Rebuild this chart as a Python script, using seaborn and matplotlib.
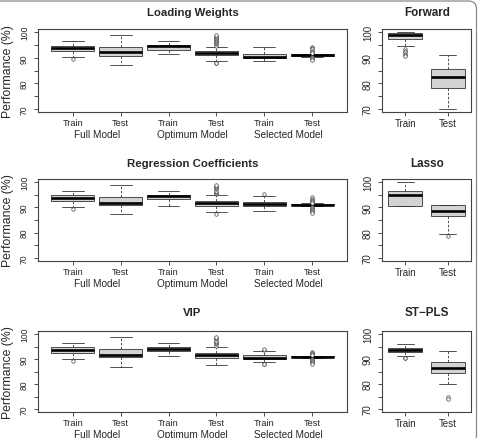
"""
Boxplots of Train/Test performance for PLS variable selection methods.
"""

import pandas as pd
import matplotlib.pyplot as plt
import seaborn as sns
from matplotlib.patches import FancyBboxPatch

# Box order on the left panels
LEFT_ORDER = ['Full Train', 'Full Test', 'Optimum Train', 'Optimum Test',
              'Selected Train', 'Selected Test']
LEFT_TICKS = ['Train', 'Test', 'Train', 'Test', 'Train', 'Test']
GROUPS = ['Full Model', 'Optimum Model', 'Selected Model']
RIGHT_ORDER = ['Train', 'Test']

# five-number summaries: whisker low, Q1, median, Q3, whisker high
loading_stats = [
    [90.1, 92.7, 93.8, 94.7, 96.4],
    [87.2, 90.8, 92.1, 94.0, 98.7],
    [91.3, 93.1, 94.5, 95.0, 96.4],
    [88.8, 91.0, 91.8, 92.7, 94.1],
    [88.9, 90.0, 90.4, 91.4, 94.1],
    [90.4, 90.7, 91.0, 91.3, 91.6],
]
loading_out = [
    [89.4],
    [],
    [],
    [94.7, 95.2, 95.6, 96.0, 96.4, 96.8, 97.2, 97.6, 98.0, 98.4, 98.8, 88.1, 87.8],
    [],
    [94.3, 93.8, 93.4, 92.8, 92.3, 91.9, 90.1, 89.7, 89.3, 89.0],
]

regression_stats = [
    [90.1, 92.7, 93.6, 94.7, 96.6],
    [87.3, 91.1, 91.7, 94.0, 98.7],
    [90.5, 93.2, 94.3, 95.0, 96.6],
    [88.1, 90.7, 91.9, 92.7, 94.7],
    [88.7, 90.5, 91.3, 92.2, 94.6],
    [90.4, 90.8, 91.0, 91.2, 91.6],
]
regression_out = [
    [89.4],
    [],
    [],
    [95.1, 95.6, 96.1, 96.6, 97.1, 97.6, 98.1, 98.6, 98.9, 87.3],
    [95.4],
    [93.9, 93.4, 92.9, 92.5, 92.1, 91.7, 90.3, 89.9, 89.5, 89.1, 88.7, 88.3, 87.9],
]

vip_stats = [
    [90.1, 92.5, 93.8, 94.7, 96.4],
    [86.9, 90.9, 91.8, 94.1, 98.7],
    [91.1, 93.1, 94.2, 94.8, 96.4],
    [87.8, 90.5, 91.5, 92.5, 94.8],
    [88.9, 90.1, 90.4, 91.8, 93.3],
    [90.5, 90.7, 90.9, 91.1, 91.3],
]
vip_out = [
    [89.3],
    [],
    [],
    [95.4, 95.9, 96.4, 96.9, 97.4, 97.9, 98.4, 98.9],
    [93.8, 94.0, 88.2, 88.0],
    [92.7, 92.3, 91.9, 91.6, 90.2, 89.8, 89.4, 89.0, 88.6, 88.2],
]

forward_stats = [
    [94.5, 97.4, 98.7, 99.6, 100.0],
    [69.9, 78.2, 82.6, 85.7, 91.0],
]
forward_out = [[93.4, 92.8, 92.2, 91.6, 91.0, 90.5], []]

lasso_stats = [
    [90.6, 90.6, 94.7, 96.6, 100.0],
    [79.6, 86.4, 88.7, 91.0, 91.0],
]
lasso_out = [[], [78.7]]

stpls_stats = [
    [91.4, 92.9, 93.7, 94.5, 95.9],
    [80.1, 84.5, 86.4, 89.0, 93.1],
]
stpls_out = [[90.6, 90.4], [75.0, 74.2]]

W, H = 480, 439
FONT = ['Liberation Sans', 'DejaVu Sans']


def to_frame(names, values):
    rows = [(n, v) for n, vals in zip(names, values) for v in vals]
    return pd.DataFrame(rows, columns=['box', 'value'])


def add_axes_px(fig, x0, y0, x1, y1):
    return fig.add_axes([x0 / W, 1 - y1 / H, (x1 - x0) / W, (y1 - y0) / H])


def draw_panel(ax, order, stats, outliers, width, tick_size, ytick_size):
    box_df = to_frame(order, stats)
    out_df = to_frame(order, outliers)

    sns.boxplot(data=box_df, x='box', y='value', order=order, ax=ax,
                color='#D3D3D3', linecolor='#333333', linewidth=0.6,
                width=width, whis=(0, 100), saturation=1,
                whiskerprops=dict(linestyle=(0, (3, 2))),
                medianprops=dict(linewidth=1.9, color='black'))
    if len(out_df):
        sns.stripplot(data=out_df, x='box', y='value', order=order, ax=ax,
                      jitter=False, color='white', edgecolor='#333333',
                      linewidth=0.45, size=2.5, zorder=5)

    ax.set_ylim(68.8, 101.2)
    ax.set_yticks([70, 75, 80, 85, 90, 95, 100])
    ax.set_yticklabels(['70', '', '80', '', '90', '', '100'],
                       rotation=90, va='center', fontsize=ytick_size)
    ax.set_xlabel('')
    ax.set_ylabel('')
    ax.tick_params(axis='both', bottom=True, left=True, direction='out',
                   length=3, width=0.6, color='#333333')
    ax.tick_params(axis='x', pad=1, labelsize=tick_size)
    ax.tick_params(axis='y', pad=3.5)
    for sp in ax.spines.values():
        sp.set_color('#444444')
        sp.set_linewidth(0.8)


def main():
    sns.set_theme(style='white')
    plt.rcParams['font.family'] = FONT

    fig = plt.figure(figsize=(W / 100, H / 100), dpi=100)

    rows = [(30, 113), (180, 262), (332, 413)]
    title_y = [13, 164, 313]
    left_panels = [
        ('Loading Weights', loading_stats, loading_out),
        ('Regression Coefficients', regression_stats, regression_out),
        ('VIP', vip_stats, vip_out),
    ]
    right_panels = [
        ('Forward', forward_stats, forward_out),
        ('Lasso', lasso_stats, lasso_out),
        ('ST\u2212PLS', stpls_stats, stpls_out),
    ]

    for (y0, y1), ty, (title, stats, outs) in zip(rows, title_y, left_panels):
        ax = add_axes_px(fig, 38, y0, 347, y1)
        draw_panel(ax, LEFT_ORDER, stats, outs, 0.9, 6.6, 6.2)
        ax.set_xticks(range(len(LEFT_ORDER)))
        ax.set_xticklabels(LEFT_TICKS)
        ax.set_xlim(-0.73, 5.73)
        for i, g in enumerate(GROUPS):
            ax.annotate(g, xy=(2 * i + 0.5, 0), xycoords=('data', 'axes fraction'),
                        xytext=(0, -16), textcoords='offset points',
                        ha='center', va='center', fontsize=7.2)
        fig.text(192.5 / W, 1 - ty / H, title, ha='center', va='center',
                 fontsize=8.2, fontweight='bold')
        fig.text(8 / W, 1 - (y0 + y1) / 2 / H, 'Performance (%)', rotation=90,
                 ha='center', va='center', fontsize=8.8)

    for (y0, y1), ty, (title, stats, outs) in zip(rows, title_y, right_panels):
        ax = add_axes_px(fig, 382, y0, 471, y1)
        draw_panel(ax, RIGHT_ORDER, stats, outs, 0.8, 7.0, 7.0)
        ax.set_xticks([0, 1])
        ax.set_xticklabels(RIGHT_ORDER)
        ax.set_xlim(-0.55, 1.55)
        fig.text(427 / W, 1 - ty / H, title, ha='center', va='center',
                 fontsize=8.4, fontweight='bold')

    # grey rounded frame cut by the figure edge
    frame = FancyBboxPatch((-0.5, -0.5), 4.765 + 0.5, 4.37 + 0.5,
                           boxstyle='round,pad=0,rounding_size=0.08',
                           transform=fig.dpi_scale_trans, fill=False,
                           edgecolor='#8a8a8a', linewidth=0.9, clip_on=False)
    fig.add_artist(frame)

    fig.savefig('out.png', dpi=100)
    plt.close(fig)


if __name__ == '__main__':
    main()
